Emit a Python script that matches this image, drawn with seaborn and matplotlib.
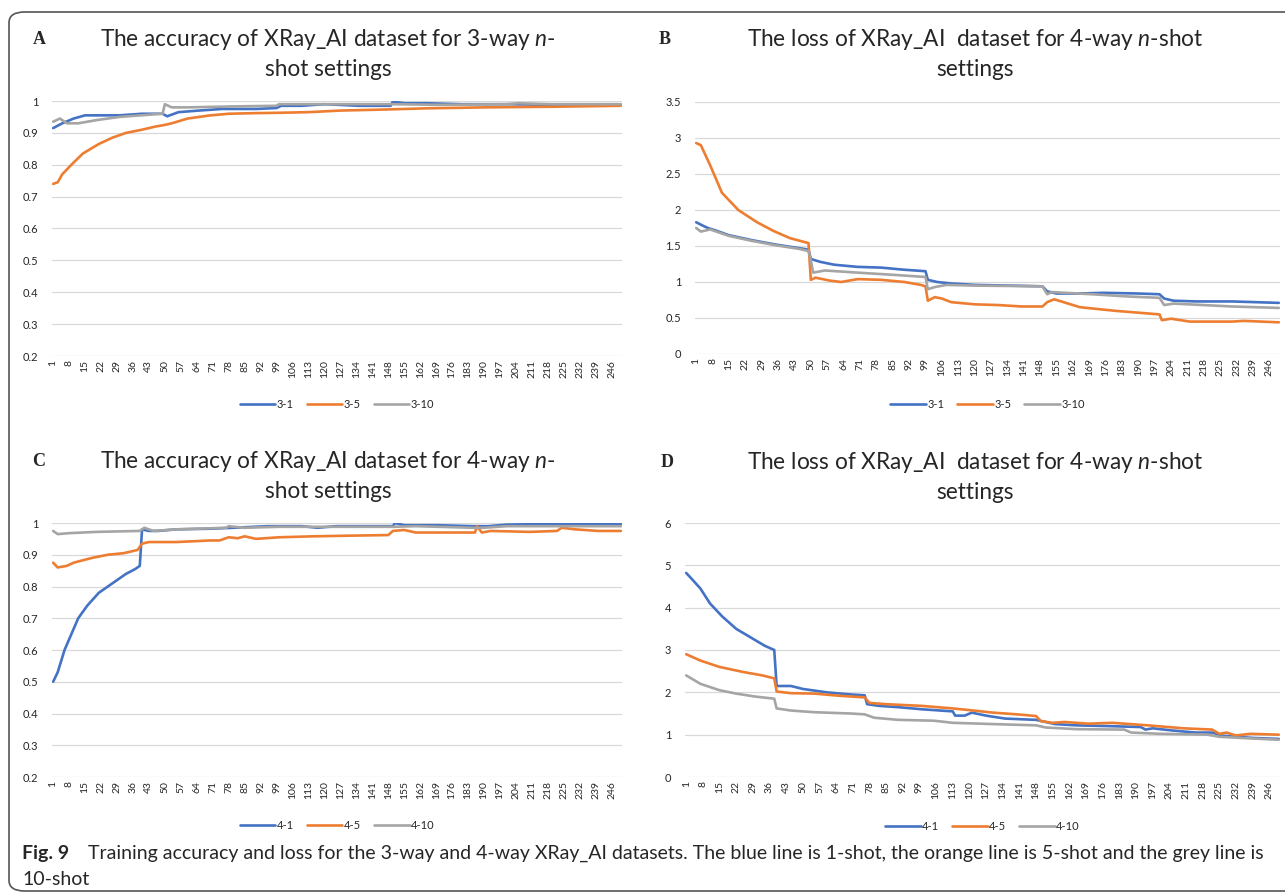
import numpy as np
import pandas as pd
import seaborn as sns
import matplotlib.pyplot as plt
from matplotlib.patches import FancyBboxPatch

# Values (epoch, value) at the visible break points.
# Panel A: accuracy, 3-way
a_31_epoch = [1, 5, 10, 15, 22, 30, 40, 49, 51, 56, 65, 75, 90, 99, 101, 110, 120, 135, 149, 150, 155, 165, 180, 200, 220, 250]
a_31_val = [0.915, 0.93, 0.945, 0.955, 0.955, 0.955, 0.96, 0.96, 0.952, 0.965, 0.97, 0.975, 0.975, 0.978, 0.985, 0.985,
            0.99, 0.985, 0.985, 0.998, 0.993, 0.993, 0.99, 0.99, 0.988, 0.988]
a_35_epoch = [1, 3, 5, 9, 14, 21, 27, 33, 40, 46, 50, 53, 60, 70, 78, 90, 100, 113, 127, 145, 165, 190, 220, 250]
a_35_val = [0.74, 0.745, 0.77, 0.80, 0.835, 0.865, 0.885, 0.90, 0.91, 0.92, 0.925, 0.93, 0.945, 0.955, 0.96, 0.962,
            0.963, 0.965, 0.97, 0.973, 0.977, 0.98, 0.982, 0.985]
a_310_epoch = [1, 4, 7, 12, 20, 30, 45, 49, 50, 53, 60, 80, 99, 100, 120, 150, 170, 200, 205, 220, 250]
a_310_val = [0.935, 0.945, 0.93, 0.93, 0.94, 0.95, 0.958, 0.96, 0.99, 0.98, 0.98, 0.983, 0.985, 0.99, 0.99, 0.99,
             0.988, 0.99, 0.993, 0.99, 0.99]

# Panel B: loss, 3-way
b_31_epoch = [1, 4, 6, 9, 15, 25, 35, 45, 49, 50, 54, 60, 70, 80, 90, 99, 100, 104, 110, 120, 135, 149, 151, 155,
              165, 175, 190, 199, 201, 205, 215, 230, 240, 250]
b_31_val = [1.83, 1.78, 1.75, 1.72, 1.65, 1.58, 1.52, 1.47, 1.45, 1.32, 1.28, 1.24, 1.21, 1.20, 1.17, 1.15, 1.03, 1.0,
            0.98, 0.96, 0.95, 0.94, 0.87, 0.84, 0.84, 0.85, 0.84, 0.83, 0.77, 0.74, 0.73, 0.73, 0.72, 0.71]
b_35_epoch = [1, 3, 7, 12, 19, 27, 34, 41, 49, 50, 52, 58, 63, 70, 80, 90, 97, 99, 100, 103, 106, 110, 120, 130, 140,
              149, 151, 154, 165, 180, 199, 200, 204, 212, 230, 235, 250]
b_35_val = [2.93, 2.9, 2.62, 2.24, 2.0, 1.83, 1.71, 1.61, 1.54, 1.03, 1.06, 1.02, 1.0, 1.04, 1.03, 1.0, 0.96, 0.94,
            0.74, 0.79, 0.77, 0.72, 0.69, 0.68, 0.66, 0.66, 0.72, 0.76, 0.65, 0.60, 0.55, 0.47, 0.49, 0.45, 0.45,
            0.46, 0.44]
b_310_epoch = [1, 3, 7, 15, 25, 35, 45, 49, 50, 51, 56, 70, 85, 99, 100, 103, 108, 120, 149, 151, 153, 170, 185, 199,
               201, 205, 230, 250]
b_310_val = [1.75, 1.70, 1.73, 1.64, 1.57, 1.51, 1.46, 1.43, 1.30, 1.13, 1.16, 1.13, 1.10, 1.07, 0.90, 0.93, 0.96, 0.95,
             0.94, 0.83, 0.86, 0.83, 0.80, 0.78, 0.68, 0.70, 0.66, 0.64]

# Panel C: accuracy, 4-way
c_41_epoch = [1, 3, 6, 9, 12, 16, 21, 25, 29, 33, 37, 39, 40, 43, 47, 55, 70, 80, 95, 110, 117, 125, 150, 151, 155,
              170, 185, 192, 200, 220, 250]
c_41_val = [0.5, 0.53, 0.6, 0.65, 0.70, 0.74, 0.78, 0.80, 0.82, 0.84, 0.855, 0.865, 0.98, 0.975, 0.975, 0.98, 0.982,
            0.985, 0.99, 0.99, 0.985, 0.99, 0.99, 1.0, 0.993, 0.993, 0.99, 0.99, 0.995, 0.997, 0.997]
c_45_epoch = [1, 3, 7, 10, 18, 25, 32, 38, 40, 43, 55, 70, 74, 78, 82, 85, 90, 100, 115, 130, 148, 150, 155, 160,
              175, 186, 187, 189, 193, 210, 222, 224, 230, 240, 250]
c_45_val = [0.875, 0.86, 0.865, 0.875, 0.89, 0.90, 0.905, 0.915, 0.935, 0.94, 0.94, 0.945, 0.945, 0.955, 0.952,
            0.958, 0.95, 0.955, 0.958, 0.96, 0.962, 0.975, 0.978, 0.97, 0.97, 0.97, 0.99, 0.97, 0.975, 0.972, 0.975,
            0.985, 0.98, 0.975, 0.975]
c_410_epoch = [1, 3, 8, 20, 39, 41, 45, 55, 77, 78, 85, 100, 150, 160, 185, 190, 200, 225, 250]
c_410_val = [0.975, 0.965, 0.968, 0.972, 0.975, 0.985, 0.975, 0.98, 0.985, 0.99, 0.985, 0.988, 0.988, 0.99, 0.985,
             0.985, 0.99, 0.99, 0.99]

# Panel D: loss, 4-way
d_41_epoch = [1, 3, 7, 11, 16, 22, 28, 34, 38, 39, 45, 50, 60, 70, 76, 77, 82, 90, 100, 113, 114, 118, 121, 127, 135,
              148, 152, 156, 165, 180, 192, 194, 197, 205, 215, 222, 226, 232, 240, 250]
d_41_val = [4.82, 4.7, 4.45, 4.1, 3.8, 3.5, 3.3, 3.1, 3.0, 2.15, 2.15, 2.08, 2.0, 1.95, 1.93, 1.72, 1.68, 1.65, 1.6,
            1.55, 1.45, 1.45, 1.52, 1.45, 1.38, 1.35, 1.3, 1.25, 1.22, 1.2, 1.18, 1.12, 1.15, 1.1, 1.05, 1.05, 0.98,
            0.95, 0.92, 0.9]
d_45_epoch = [1, 7, 15, 25, 33, 38, 39, 45, 55, 65, 76, 78, 85, 100, 113, 120, 130, 140, 148, 150, 155, 160, 170,
              180, 195, 210, 222, 225, 228, 232, 238, 250]
d_45_val = [2.9, 2.75, 2.6, 2.48, 2.4, 2.33, 2.02, 1.98, 1.97, 1.92, 1.88, 1.75, 1.72, 1.68, 1.62, 1.58, 1.52, 1.48,
            1.44, 1.32, 1.28, 1.3, 1.26, 1.28, 1.22, 1.15, 1.12, 1.02, 1.05, 0.98, 1.02, 1.0]
d_410_epoch = [1, 7, 15, 22, 30, 38, 39, 45, 55, 70, 76, 80, 90, 105, 113, 130, 148, 152, 165, 185, 188, 200, 220,
               225, 235, 250]
d_410_val = [2.4, 2.2, 2.05, 1.97, 1.9, 1.85, 1.62, 1.57, 1.53, 1.5, 1.48, 1.4, 1.35, 1.33, 1.28, 1.25, 1.22, 1.17,
             1.13, 1.12, 1.05, 1.02, 1.0, 0.95, 0.92, 0.88]

tick_epochs = list(range(1, 247, 7))
line_colors = ["#4472C4", "#ED7D31", "#A5A5A5"]

sns.set_style("white")
plt.rcParams["font.family"] = "Lato"
plt.rcParams["mathtext.fontset"] = "custom"
plt.rcParams["mathtext.rm"] = "Lato"
plt.rcParams["mathtext.it"] = "Lato:italic"

W, H = 1285, 896
fig = plt.figure(figsize=(W / 100, H / 100), dpi=100)


def px_axes(left, top, right, bottom):
    ax = fig.add_axes([left / W, 1 - bottom / H, (right - left) / W, (bottom - top) / H])
    ax.top_px, ax.bot_px = top, bottom
    return ax


def make_df(series):
    frames = []
    for name, ep, val in series:
        frames.append(pd.DataFrame({"epoch": ep, "value": val, "series": name}))
    return pd.concat(frames, ignore_index=True)


def draw_panel(ax, series, yticks, letter, title1, title2, letter_xy, title_xy, legend_y):
    df = make_df(series)
    sns.lineplot(data=df, x="epoch", y="value", hue="series", palette=line_colors,
                 linewidth=1.9, ax=ax, sort=False)
    ax.set_xlim(0.5, 250.5)
    ax.set_ylim(yticks[0], yticks[-1])
    ax.set_yticks(yticks)
    ax.set_yticklabels([f"{v:g}" for v in yticks], fontsize=8, color="#262626")
    ax.set_xticks(tick_epochs)
    ax.set_xticklabels([str(t) for t in tick_epochs], rotation=90, fontsize=7.5, color="#262626")
    ax.tick_params(length=0, axis="y", pad=10)
    ax.tick_params(length=0, axis="x", pad=3)
    ax.grid(axis="y", color="#D9D9D9", linewidth=0.9)
    ax.grid(axis="x", visible=False)
    ax.set_xlabel("")
    ax.set_ylabel("")
    for s in ax.spines.values():
        s.set_visible(False)
    sns.move_legend(ax, "center", bbox_to_anchor=(0.5, 1 - (legend_y - ax.top_px) / (ax.bot_px - ax.top_px)),
                    ncol=3, title=None, frameon=False, fontsize=8, handlelength=3.2,
                    handletextpad=0.1, columnspacing=1.2)
    fig.text(letter_xy[0] / W, 1 - letter_xy[1] / H, letter, family="Liberation Serif", weight="bold",
             fontsize=13, ha="center", va="center")
    fig.text(title_xy[0] / W, 1 - title_xy[1] / H, title1, fontsize=16.3, ha="center", va="center")
    fig.text(title_xy[0] / W, 1 - (title_xy[1] + 30) / H, title2, fontsize=16.3, ha="center", va="center")


axA = px_axes(52, 101, 622, 356)
axB = px_axes(695, 102, 1280, 354)
axC = px_axes(52, 523, 622, 777)
axD = px_axes(685, 523, 1280, 777)

draw_panel(axA, [("3-1", a_31_epoch, a_31_val), ("3-5", a_35_epoch, a_35_val), ("3-10", a_310_epoch, a_310_val)],
           np.round(np.arange(0.2, 1.01, 0.1), 1), "A",
           r"The accuracy of XRay_AI dataset for 3-way $\it{n}$-", "shot settings",
           (39, 40), (328, 40), 404)
draw_panel(axB, [("3-1", b_31_epoch, b_31_val), ("3-5", b_35_epoch, b_35_val), ("3-10", b_310_epoch, b_310_val)],
           np.round(np.arange(0, 3.51, 0.5), 1), "B",
           r"The loss of XRay_AI  dataset for 4-way $\it{n}$-shot", "settings",
           (665, 40), (975, 40), 404)
draw_panel(axC, [("4-1", c_41_epoch, c_41_val), ("4-5", c_45_epoch, c_45_val), ("4-10", c_410_epoch, c_410_val)],
           np.round(np.arange(0.2, 1.01, 0.1), 1), "C",
           r"The accuracy of XRay_AI dataset for 4-way $\it{n}$-", "shot settings",
           (39, 461), (328, 461), 825)
draw_panel(axD, [("4-1", d_41_epoch, d_41_val), ("4-5", d_45_epoch, d_45_val), ("4-10", d_410_epoch, d_410_val)],
           np.arange(0, 7, 1), "D",
           r"The loss of XRay_AI  dataset for 4-way $\it{n}$-shot", "settings",
           (667, 462), (975, 462), 826)

# caption
fig.text(22 / W, 1 - 853 / H, "Fig. 9", weight="bold", fontsize=14, ha="left", va="center")
fig.text(88 / W, 1 - 853 / H,
         "Training accuracy and loss for the 3-way and 4-way XRay_AI datasets. The blue line is 1-shot, "
         "the orange line is 5-shot and the grey line is", fontsize=14, ha="left", va="center")
fig.text(22 / W, 1 - 879 / H, "10-shot", fontsize=14, ha="left", va="center")

# outer frame
frame = FancyBboxPatch((9 / W, 1 - 891 / H), 1300 / W, 879 / H, boxstyle="round,pad=0,rounding_size=0.012",
                       transform=fig.transFigure, fill=False, edgecolor="#555555", linewidth=1.2)
fig.patches.append(frame)

fig.savefig("out.png", dpi=100)
